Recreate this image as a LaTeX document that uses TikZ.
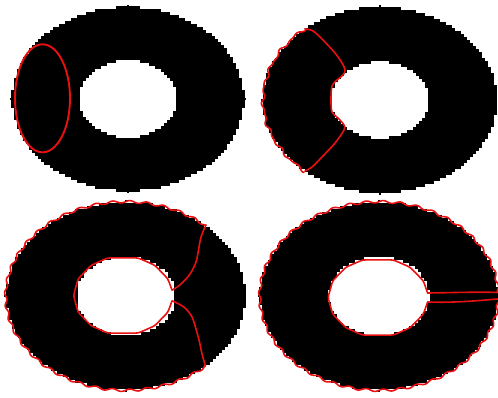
\documentclass[tikz,border=0pt]{standalone}
\definecolor{cred}{RGB}{232,16,16}
\tikzset{
  contour/.style={draw=cred, line width=1.6pt, line join=round, line cap=round},
  seed/.style={draw=cred, line width=1.9pt}
}
% pixelated ring: cx cy rx ry hrx hry
\newcommand\pixring[6]{%
  \foreach \i in {-33,...,32}{%
    \pgfmathsetmacro\myq{max(0,1-(((\i+0.5)*3)/#4)^2)}%
    \pgfmathsetmacro\myw{3*round(#3*sqrt(\myq)/3)}%
    \ifdim\myw pt>0.5pt
      \fill[black] ({#1-\myw},{#2+\i*3}) rectangle ({#1+\myw},{#2+\i*3+3});
    \fi
  }%
  \foreach \i in {-15,...,14}{%
    \pgfmathsetmacro\myq{max(0,1-(((\i+0.5)*3)/#6)^2)}%
    \pgfmathsetmacro\myw{3*round(#5*sqrt(\myq)/3)}%
    \ifdim\myw pt>0.5pt
      \fill[white] ({#1-\myw},{#2+\i*3}) rectangle ({#1+\myw},{#2+\i*3+3});
    \fi
  }%
  \fill[black] ({#1-1},{#2-#4-2}) rectangle ({#1+1},{#2-#4});
  \fill[black] ({#1-1},{#2+#4}) rectangle ({#1+1},{#2+#4+2});
  \fill[black] ({#1-#3-2},{#2-1}) rectangle ({#1-#3},{#2+1});
}
\begin{document}
\begin{tikzpicture}[x=1pt,y=-1pt]
\fill[white] (0,0) rectangle (498,397);
\useasboundingbox (0,0) rectangle (498,397);

% ---------- panel 1 ----------
\pixring{128}{98.5}{116}{92}{49.5}{38.5}
\fill[black] (243,97.5) rectangle (246,99.5);
\draw[seed] (42.5,98.3) ellipse [x radius=27.5pt, y radius=54pt];

% ---------- panel 2 ----------
\pixring{380}{100}{117}{93}{49.5}{38}
\draw[contour] plot[domain=230:130, samples=220, variable=\t]
  ({380+(117+1.1*sin(31*\t)+0.7*sin(53*\t))*cos(\t)},
   {100+(93+1.1*sin(31*\t)+0.7*sin(53*\t))*sin(\t)});
\draw[contour] plot[smooth, tension=0.55] coordinates {
  (304.8,28.8) (313,31) (322,39) (335,53) (342,63) (345,70) (343,75)
  (337,80) (332,86) (331,100) (332,112) (338,118) (344,125) (344,130)
  (335,143) (322,157) (312,167) (304.8,171.2)};

% ---------- panel 3 ----------
\pixring{125.5}{296}{119.5}{94}{49.5}{39.5}
\draw[contour] plot[domain=48:312, samples=420, variable=\t]
  ({125.5+(119.8+1.2*sin(44*\t))*cos(\t)},{296+(94.3+1.2*sin(44*\t))*sin(\t)});
\draw[contour, rounded corners=2.5pt] plot[variable=\a,
  samples at={-8,-25,-50,-72,-108,-130,-155,-180,-205,-230,-252,-288,-310,-335,-352}]
  ({123+49.5*cos(\a)},{295.5+39.5*sin(\a)});
\draw[contour] plot[smooth, tension=0.6] coordinates {
  (205.5,226) (201,237) (198.5,250) (196,262) (190,274) (181,284) (174,289) (172,290)};
\draw[contour] plot[smooth, tension=0.6] coordinates {
  (172,301) (176,302.5) (185,308) (192,317) (196,329) (199.5,342) (202,354) (205.5,366)};

% ---------- panel 4 ----------
\pixring{379}{296}{119}{94}{50}{39.5}
\draw[contour] plot[domain=2:358, samples=560, variable=\t]
  ({379+(119.3+1.2*sin(44*\t))*cos(\t)},{296+(94.3+1.2*sin(44*\t))*sin(\t)});
\draw[contour, rounded corners=2.5pt] plot[variable=\a,
  samples at={-6.5,-25,-50,-72,-108,-130,-155,-180,-205,-230,-252,-288,-310,-335,-353.5}]
  ({378+50*cos(\a)},{297.5+39.5*sin(\a)});
\draw[contour] plot[smooth, tension=0.6] coordinates {
  (427.7,293) (440,292.8) (460,292.4) (480,292.2) (498,292.4)};
\draw[contour] plot[smooth, tension=0.6] coordinates {
  (427.7,302) (445,302.2) (465,301.5) (482,300.3) (498,299)};
\end{tikzpicture}
\end{document}
